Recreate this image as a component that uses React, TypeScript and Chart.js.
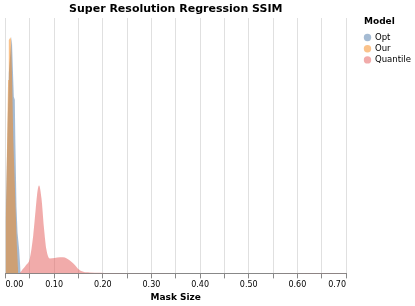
import React, { useEffect, useRef } from "react";
import { Chart, registerables } from "chart.js";

Chart.register(...registerables);

const chartTitle = "Super Resolution Regression SSIM";
const xAxisTitle = "Mask Size";
const legendTitle = "Model";
const seriesNames = ["Opt", "Our", "Quantile"];
const seriesColors = ["rgba(76,120,168,0.5)", "rgba(245,133,24,0.5)", "rgba(228,87,86,0.5)"];

const optX = [0, 0.0027, 0.0068, 0.011, 0.013, 0.015, 0.0171, 0.0191, 0.0202, 0.0226, 0.0247, 0.028, 0.0309, 0.0315];
const optY = [14, 30, 55, 62, 64.9, 56.6, 48.4, 47.6, 36.6, 18.3, 11.2, 6.6, 0.5, 0];

const ourX = [0, 0.0012, 0.0033, 0.0053, 0.0068, 0.0103, 0.0115, 0.0136, 0.016, 0.0206, 0.0232, 0.026, 0.0263];
const ourY = [14, 18.3, 36.6, 53, 64, 64.7, 64, 53, 36.6, 18.3, 7.9, 0.3, 0];

const quantileX = [0.029, 0.0335, 0.042, 0.05, 0.057, 0.062, 0.066, 0.069, 0.074, 0.079, 0.084, 0.091, 0.101, 0.112, 0.118, 0.126, 0.136, 0.143, 0.149, 0.16, 0.173, 0.194, 0.215, 0.25, 0.3, 0.35, 0.55, 0.6, 0.65, 0.7];
const quantileY = [0, 0.8, 2.2, 4.1, 10.4, 17.5, 22.7, 24.1, 20.5, 12.6, 6.6, 4.1, 4.2, 4.4, 4.4, 4.1, 3.1, 2.2, 1.3, 0.46, 0.27, 0.19, 0.1, 0.05, 0.01, 0, 0, 0.03, 0.08, 0.05];

const xTickLabels = ["0.00", "0.10", "0.20", "0.30", "0.40", "0.50", "0.60", "0.70"];

const FONT = "DejaVu Sans";

const legendPlugin = {
  id: "customLegend",
  afterDraw(chart: any) {
    const ctx = chart.ctx;
    ctx.save();
    ctx.textBaseline = "middle";
    ctx.textAlign = "left";
    ctx.fillStyle = "#000";
    ctx.font = `bold 9px "${FONT}"`;
    ctx.fillText(legendTitle, 364, 21.8);
    ctx.font = `8.5px "${FONT}"`;
    seriesNames.forEach((name, i) => {
      const cy = 37.5 + i * 11.2;
      ctx.beginPath();
      ctx.arc(367.5, cy, 3.7, 0, Math.PI * 2);
      ctx.fillStyle = seriesColors[i];
      ctx.fill();
      ctx.fillStyle = "#000";
      ctx.fillText(name, 375, cy);
    });
    ctx.restore();
  },
};

export default function App() {
  const ref = useRef<HTMLCanvasElement>(null);
  useEffect(() => {
    document.body.style.margin = "0";
    const mk = (xs: number[], ys: number[]) => xs.map((x, i) => ({ x, y: ys[i] }));
    const datasets = [
      { label: seriesNames[0], data: mk(optX, optY), tension: 0, order: 3 },
      { label: seriesNames[1], data: mk(ourX, ourY), tension: 0, order: 2 },
      { label: seriesNames[2], data: mk(quantileX, quantileY), cubicInterpolationMode: "monotone" as const, order: 1 },
    ].map((d, i) => ({
      ...d,
      backgroundColor: seriesColors[i],
      borderWidth: 0,
      borderColor: "rgba(0,0,0,0)",
      pointRadius: 0,
      fill: "origin",
    }));
    const chart = new Chart(ref.current!, {
      type: "line",
      data: { datasets },
      plugins: [legendPlugin],
      options: {
        animation: false,
        responsive: false,
        layout: { padding: { left: 5.5, right: 69, top: 0, bottom: 3 } },
        plugins: {
          legend: { display: false },
          tooltip: { enabled: false },
          title: {
            display: true,
            text: chartTitle,
            fullSize: false,
            color: "#000",
            font: { family: FONT, size: 11, weight: "bold" },
            padding: { top: 2.1, bottom: 2.7 },
          },
        },
        scales: {
          x: {
            type: "linear",
            min: 0,
            max: 0.7,
            grid: { color: "#e0e0e0", tickColor: "#888", tickLength: 5, drawOnChartArea: true },
            border: { color: "#888" },
            ticks: {
              stepSize: 0.05,
              autoSkip: false,
              maxRotation: 0,
              padding: 1.6,
              align: "inner",
              color: "#000",
              font: { family: FONT, size: 8 },
              callback: (v: any, i: number) => (i % 2 === 0 ? xTickLabels[i / 2] ?? "" : ""),
            },
            title: {
              display: true,
              text: xAxisTitle,
              color: "#000",
              font: { family: FONT, size: 9, weight: "bold" },
              padding: { top: 1, bottom: 0 },
            },
          },
          y: { display: false, min: 0, max: 70 },
        },
      },
    });
    return () => chart.destroy();
  }, []);
  return (
    <div style={{ width: 415, height: 306 }}>
      <canvas ref={ref} width={415} height={306} />
    </div>
  );
}
